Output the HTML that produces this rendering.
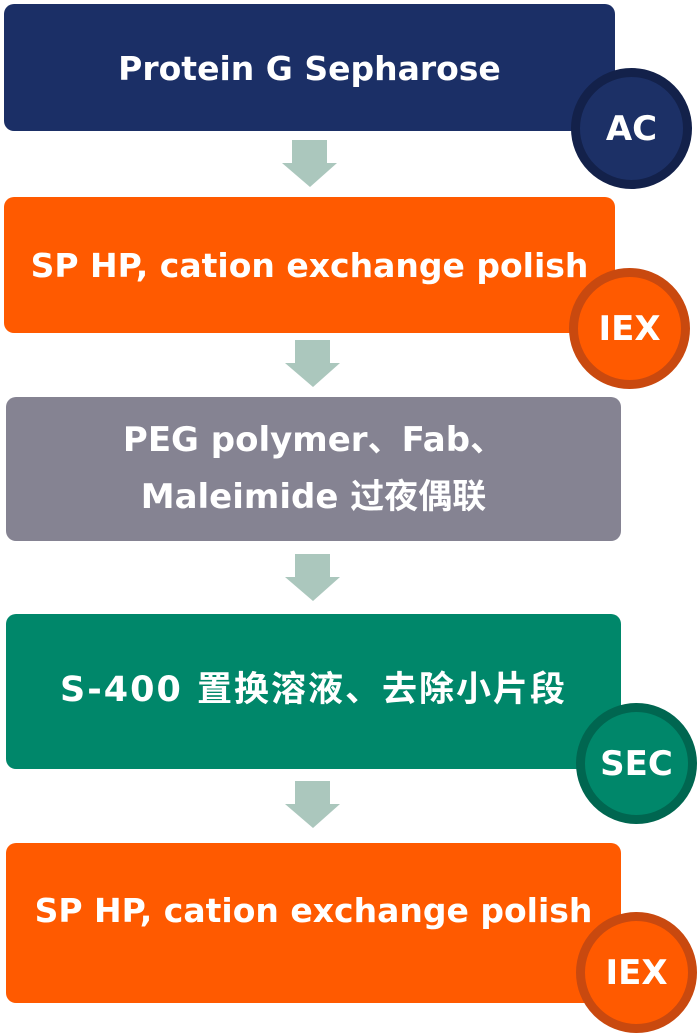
<!DOCTYPE html>
<html><head><meta charset="utf-8"><style>
body{margin:0;width:700px;height:1032px;background:#fff;position:relative;overflow:hidden;font-family:"DejaVu Sans","Noto Sans CJK SC",sans-serif;}
.b{position:absolute;border-radius:10px;color:#fff;font-weight:bold;font-size:33px;display:flex;align-items:center;justify-content:center;text-align:center;line-height:57px;box-sizing:border-box;white-space:nowrap;}
.c{position:absolute;border-radius:50%;color:#fff;font-weight:bold;font-size:34px;display:flex;align-items:center;justify-content:center;box-sizing:border-box;border:9px solid;}
svg.a{position:absolute;}
</style></head><body>
<div class="b" style="left:4px;top:4px;width:611px;height:127px;background:#1b2f66;padding-top:2px;">Protein G Sepharose</div>
<div class="c" style="left:571px;top:68px;width:121px;height:121px;background:#1c3066;border-color:#13214a;">AC</div>
<svg class="a" style="left:282px;top:140px" width="56" height="48"><polygon points="10,0 45,0 45,23 55,23 28,47 0,23 10,23" fill="#abc7bd"/></svg>

<div class="b" style="left:4px;top:197px;width:611px;height:136px;background:#ff5a00;">SP HP, cation exchange polish</div>
<div class="c" style="left:569px;top:268px;width:121px;height:121px;background:#ff5a00;border-color:#c9490f;">IEX</div>
<svg class="a" style="left:285px;top:340px" width="56" height="48"><polygon points="10,0 45,0 45,23 55,23 28,47 0,23 10,23" fill="#abc7bd"/></svg>

<div class="b" style="left:6px;top:397px;width:615px;height:144px;background:#858392;font-size:34px;">PEG polymer、Fab、<br>Maleimide 过夜偶联</div>
<svg class="a" style="left:285px;top:554px" width="56" height="48"><polygon points="10,0 45,0 45,23 55,23 28,47 0,23 10,23" fill="#abc7bd"/></svg>

<div class="b" style="left:6px;top:614px;width:615px;height:155px;background:#00876a;padding-bottom:2px;font-size:35px;letter-spacing:2px;">S-400 置换溶液、去除小片段</div>
<div class="c" style="left:576px;top:703px;width:121px;height:121px;background:#00876a;border-color:#006650;">SEC</div>
<svg class="a" style="left:285px;top:781px" width="56" height="48"><polygon points="10,0 45,0 45,23 55,23 28,47 0,23 10,23" fill="#abc7bd"/></svg>

<div class="b" style="left:6px;top:843px;width:615px;height:160px;background:#ff5a00;padding-bottom:26px;">SP HP, cation exchange polish</div>
<div class="c" style="left:576px;top:912px;width:121px;height:121px;background:#ff5a00;border-color:#c9490f;">IEX</div>
</body></html>
